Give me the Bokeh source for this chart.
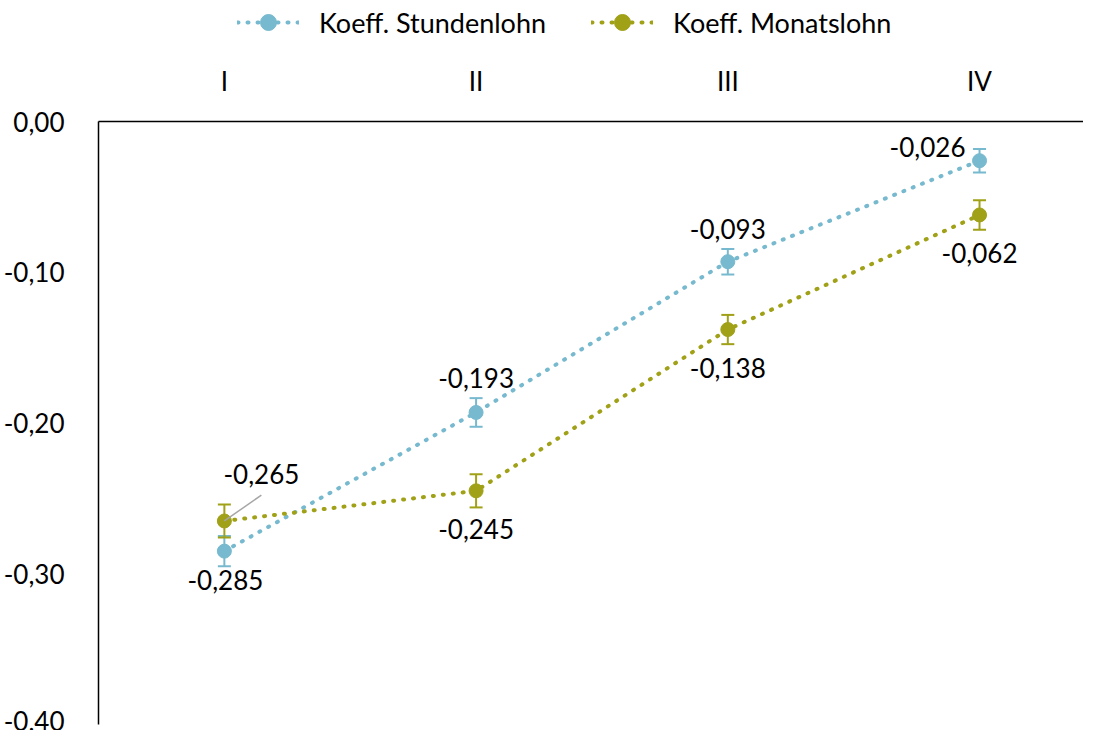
from bokeh.plotting import figure
from bokeh.layouts import column
from bokeh.models import (ColumnDataSource, Range1d, FixedTicker, CustomJSTickFormatter,
                          Whisker, TeeHead, Legend, LegendItem)
from bokeh.core.properties import value
from bokeh.embed import file_html
from bokeh.resources import INLINE

# ---- data ----
categories = ["I", "II", "III", "IV"]
cat_pos = [0.5, 1.5, 2.5, 3.5]
stunden = [-0.285, -0.193, -0.093, -0.026]
stunden_err = [0.010, 0.0095, 0.0085, 0.0078]
monats = [-0.265, -0.245, -0.138, -0.062]
monats_err = [0.011, 0.011, 0.0097, 0.0098]
y_ticks = [0.0, -0.1, -0.2, -0.3, -0.4]
series_names = ["Koeff. Stundenlohn", "Koeff. Monatslohn"]

# ---- styles ----
C_ST = "#77B9CE"
C_MO = "#A0A117"
FONT = "Lato"
FS = "26px"
colors = [C_ST, C_MO]

# label placement offsets (screen px)
st_dx = [1, 0, 0, -52]
st_dy = [29, -34, -33, -14]
mo_dx = [37, 0, 0, 0]
mo_dy = [-47, 38, 38, 38]

def fmt(v):
    return f"{v:.3f}".replace(".", ",")

p = figure(width=1083, height=680, output_backend="svg", toolbar_location=None,
           x_range=Range1d(0, 3.913), y_range=Range1d(-0.4, 0.0),
           x_axis_location="above", min_border_left=91, min_border_top=71,
           min_border_bottom=6, min_border_right=0)
p.outline_line_color = None
p.grid.grid_line_color = None
p.background_fill_color = "white"
p.border_fill_color = "white"

# axes
xa = p.xaxis[0]
xa.ticker = FixedTicker(ticks=cat_pos)
xa.major_label_overrides = {c: l for c, l in zip(cat_pos, categories)}
xa.major_tick_line_color = None
xa.minor_tick_line_color = None
xa.axis_line_color = "black"
xa.axis_line_width = 1.5
xa.major_label_text_font = FONT
xa.major_label_text_font_size = FS
xa.major_label_text_color = "black"
xa.major_label_standoff = 19

ya = p.yaxis[0]
ya.ticker = FixedTicker(ticks=y_ticks)
ya.formatter = CustomJSTickFormatter(code="return tick.toFixed(2).replace('.', ',');")
ya.major_tick_line_color = None
ya.minor_tick_line_color = None
ya.axis_line_color = "black"
ya.axis_line_width = 1.5
ya.major_label_text_font = FONT
ya.major_label_text_font_size = FS
ya.major_label_text_color = "black"
ya.major_label_standoff = 28

src_st = ColumnDataSource(dict(x=cat_pos, y=stunden,
                               lo=[v - e for v, e in zip(stunden, stunden_err)],
                               hi=[v + e for v, e in zip(stunden, stunden_err)],
                               lab=[fmt(v) for v in stunden], dx=st_dx, dy=st_dy))
src_mo = ColumnDataSource(dict(x=cat_pos, y=monats,
                               lo=[v - e for v, e in zip(monats, monats_err)],
                               hi=[v + e for v, e in zip(monats, monats_err)],
                               lab=[fmt(v) for v in monats], dx=mo_dx, dy=mo_dy))

for src, col in [(src_st, C_ST), (src_mo, C_MO)]:
    p.line("x", "y", source=src, line_color=col, line_width=4,
           line_dash="1 9", line_cap="round")
    w = Whisker(base="x", lower="lo", upper="hi", source=src, dimension="height",
                line_color=col, line_width=2,
                upper_head=TeeHead(size=13, line_color=col, line_width=2),
                lower_head=TeeHead(size=13, line_color=col, line_width=2))
    p.add_layout(w)
    p.scatter("x", "y", source=src, size=14, fill_color=col, line_color=col)

# leader line for first Monatslohn label
p.segment(x0=[cat_pos[0]], y0=[monats[0]], x1=[cat_pos[0] + 0.147], y1=[monats[0] + 0.0172],
          line_color="#A6A6A6", line_width=1.5)

for src in (src_st, src_mo):
    p.text("x", "y", text="lab", source=src, x_offset="dx", y_offset="dy",
           text_align="center", text_baseline="middle", text_font=value(FONT),
           text_font_size=FS, text_color="black")

# ---- legend strip on top (series drawn out of view, only legend shows) ----
lg = figure(width=1083, height=50, output_backend="svg", toolbar_location=None,
            x_range=Range1d(0, 1), y_range=Range1d(0, 1),
            x_axis_location=None, y_axis_location=None,
            min_border_left=0, min_border_right=0, min_border_top=0, min_border_bottom=0)
lg.outline_line_color = None
lg.grid.grid_line_color = None
items = []
for name, col, src in zip(series_names, colors, (src_st, src_mo)):
    l1 = lg.line("x", "y", source=src, line_color=col, line_width=4,
                 line_dash="1 9", line_cap="round")
    s1 = lg.scatter("x", "y", source=src, size=14, fill_color=col, line_color=col)
    items.append(LegendItem(label=name, renderers=[l1, s1]))

legend = Legend(items=items, orientation="horizontal", location=(139, 8),
                glyph_width=62, glyph_height=40, label_height=40, label_standoff=20,
                spacing=45, padding=0, margin=0, border_line_color=None,
                background_fill_alpha=0, label_text_font=FONT, label_text_font_size="27px",
                label_text_color="black")
lg.add_layout(legend, "center")

open("out.html", "w").write(file_html(column(lg, p), INLINE))
